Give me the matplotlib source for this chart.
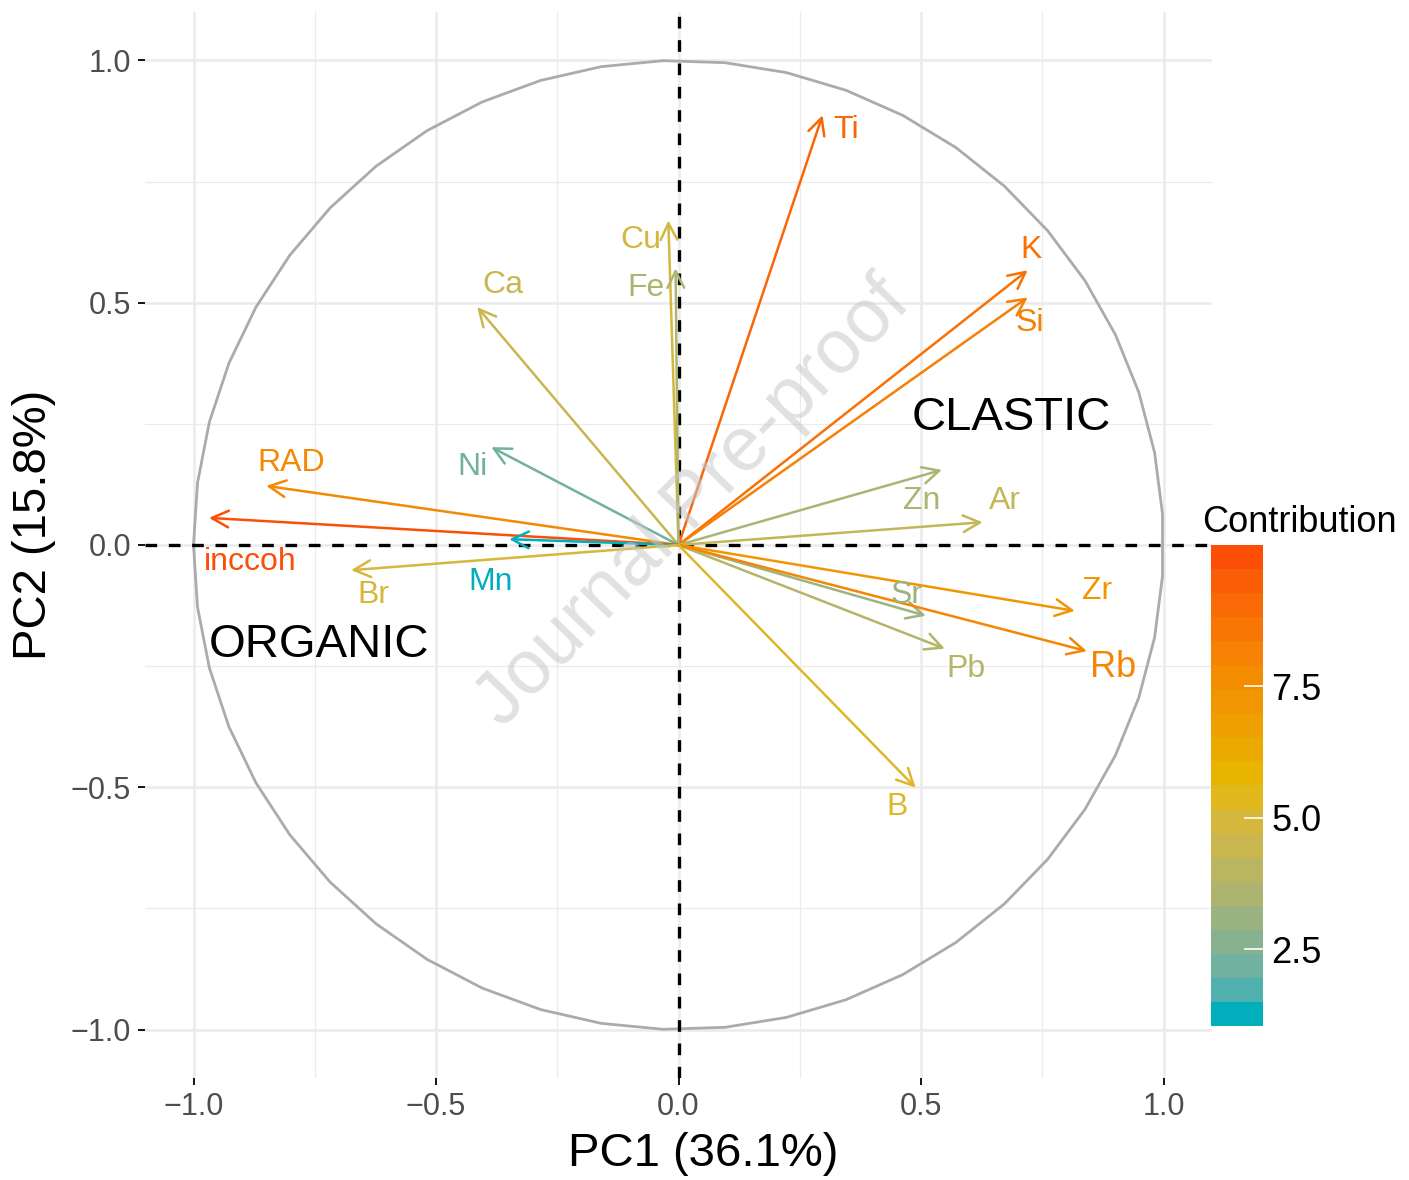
import numpy as np
import matplotlib
matplotlib.use("Agg")
import matplotlib.pyplot as plt
from matplotlib.colors import ListedColormap, Normalize, to_rgb
from matplotlib.cm import ScalarMappable

plt.rcParams['font.family'] = ['Liberation Sans', 'DejaVu Sans']

# variable coordinates on PC1 / PC2 and their contribution
variables = ["Ti", "K", "Si", "Cu", "Fe", "Ca", "Ni", "RAD", "inccoh",
             "Mn", "Br", "Zn", "Ar", "Sr", "Zr", "Pb", "Rb", "B"]
pc1 = [0.297, 0.720, 0.720, -0.021, -0.006, -0.415, -0.386, -0.850, -0.968,
       -0.349, -0.675, 0.543, 0.627, 0.510, 0.817, 0.549, 0.842, 0.489]
pc2 = [0.887, 0.567, 0.511, 0.670, 0.571, 0.491, 0.202, 0.122, 0.056,
       0.012, -0.052, 0.155, 0.047, -0.146, -0.136, -0.214, -0.219, -0.501]
contrib = [9.4, 9.0, 8.3, 4.8, 3.5, 4.4, 2.0, 7.9, 10.18,
           1.04, 4.9, 3.4, 4.2, 3.0, 7.3, 3.7, 8.1, 5.2]

# where the (repelled) labels sit
lab_x = [0.345, 0.727, 0.725, -0.078, -0.066, -0.363, -0.425, -0.799, -0.883,
         -0.388, -0.629, 0.502, 0.673, 0.471, 0.863, 0.592, 0.896, 0.450]
lab_y = [0.856, 0.608, 0.458, 0.629, 0.530, 0.536, 0.161, 0.169, -0.035,
         -0.076, -0.103, 0.091, 0.091, -0.103, -0.095, -0.256, -0.252, -0.540]

axis_ticks = [-1.0, -0.5, 0.0, 0.5, 1.0]
cbar_ticks = [2.5, 5.0, 7.5]
gradient_cols = ["#00AFBB", "#E7B800", "#FC4E07"]

# --- gradient interpolated in Lab like ggplot ---
M = np.array([[0.4124, 0.3576, 0.1805], [0.2126, 0.7152, 0.0722], [0.0193, 0.1192, 0.9505]])
WHITE = np.array([0.95047, 1.0, 1.08883])


def to_lab(col):
    rgb = np.array(to_rgb(col))
    lin = np.where(rgb <= 0.04045, rgb / 12.92, ((rgb + 0.055) / 1.055) ** 2.4)
    xyz = M @ lin / WHITE
    f = np.where(xyz > 0.008856, np.cbrt(xyz), 7.787 * xyz + 16 / 116)
    return np.array([116 * f[1] - 16, 500 * (f[0] - f[1]), 200 * (f[1] - f[2])])


def from_lab(lab):
    fy = (lab[0] + 16) / 116
    f = np.array([fy + lab[1] / 500, fy, fy - lab[2] / 200])
    xyz = np.where(f ** 3 > 0.008856, f ** 3, (f - 16 / 116) / 7.787) * WHITE
    lin = np.clip(np.linalg.solve(M, xyz), 0, 1)
    rgb = np.where(lin <= 0.0031308, 12.92 * lin, 1.055 * lin ** (1 / 2.4) - 0.055)
    return np.clip(rgb, 0, 1)


labs = [to_lab(c) for c in gradient_cols]
ramp = []
for t in np.linspace(0, 1, 256):
    if t <= 0.5:
        lab = labs[0] + (labs[1] - labs[0]) * t * 2
    else:
        lab = labs[1] + (labs[2] - labs[1]) * (t - 0.5) * 2
    ramp.append(from_lab(lab))
cmap = ListedColormap(ramp)
norm = Normalize(vmin=min(contrib), vmax=max(contrib))

fig = plt.figure(figsize=(14.09, 11.8), dpi=100)
ax = fig.add_axes([145 / 1409, 1 - 1078 / 1180, 1067 / 1409, 1066 / 1180])
ax.set_xlim(-1.1, 1.1)
ax.set_ylim(-1.1, 1.1)

for s in ax.spines.values():
    s.set_visible(False)
ax.set_xticks(axis_ticks)
ax.set_yticks(axis_ticks)
ax.set_xticks([-0.75, -0.25, 0.25, 0.75], minor=True)
ax.set_yticks([-0.75, -0.25, 0.25, 0.75], minor=True)
ax.grid(True, which='major', color='#EBEBEB', lw=1.8)
ax.grid(True, which='minor', color='#EBEBEB', lw=0.9)
ax.set_axisbelow(True)
ax.tick_params(which='major', length=5, width=1.3, color='black',
               labelcolor='#4D4D4D', labelsize=22, pad=5)
ax.tick_params(which='minor', length=0)
ax.set_xlabel("PC1 (36.1%)", fontsize=34)
ax.set_ylabel("PC2 (15.8%)", fontsize=34)
ax.xaxis.set_label_coords(0.523, -0.051)
ax.yaxis.set_label_coords(-0.083, 0.519)

# correlation circle
theta = np.linspace(-np.pi, np.pi, 50)
ax.plot(np.cos(theta), np.sin(theta), color='#ABABAB', lw=2.0, zorder=2)

ax.axhline(0, color='black', lw=2.4, ls=(0, (3.5, 3.5)), zorder=3)
ax.axvline(0, color='black', lw=2.4, ls=(0, (3.5, 3.5)), zorder=3)

ax.text(0.03, 0.087, "Journal Pre-proof", fontsize=55, color='#C8C8C8', alpha=0.55,
        rotation=46, ha='center', va='center', zorder=5)

for name, x, y, c, lx, ly in zip(variables, pc1, pc2, contrib, lab_x, lab_y):
    col = cmap(norm(c))
    ax.annotate("", xy=(x, y), xytext=(0, 0),
                arrowprops=dict(arrowstyle='->,head_length=0.6,head_width=0.3',
                                color=col, lw=1.8, shrinkA=0, shrinkB=0,
                                mutation_scale=20),
                zorder=4)
    ax.text(lx, ly, name, color=col, fontsize=26 if name == "Rb" else 23,
            ha='center', va='center', zorder=6)

ax.text(0.687, 0.262, "CLASTIC", fontsize=34, ha='center', va='center', zorder=6)
ax.text(-0.741, -0.206, "ORGANIC", fontsize=34, ha='center', va='center', zorder=6)

# stepped colour bar
cax = fig.add_axes([1211 / 1409, 1 - 1026 / 1180, 52 / 1409, 481 / 1180])
bar_cmap = ListedColormap(cmap(np.linspace(0, 1, 20)))
cb = fig.colorbar(ScalarMappable(norm=norm, cmap=bar_cmap), cax=cax, ticks=cbar_ticks)
cb.outline.set_visible(False)
cb.ax.tick_params(direction='in', color='white', length=14, width=1.2,
                  labelsize=26, pad=6)
cb.ax.set_yticklabels([f"{t:.1f}" for t in cbar_ticks])
fig.text(1202 / 1409, 1 - 522 / 1180, "Contribution", fontsize=26, ha='left', va='center')

fig.savefig("out.png", dpi=100)
